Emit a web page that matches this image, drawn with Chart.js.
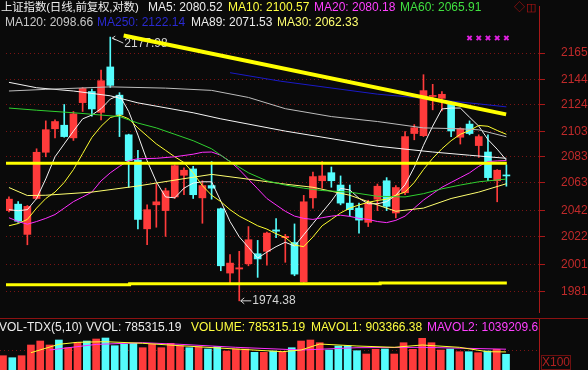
<!DOCTYPE html>
<html lang="zh">
<head>
<meta charset="UTF-8">
<title>上证指数 日线</title>
<script src="https://cdn.jsdelivr.net/npm/chart.js"></script>
<style>
  body { margin: 0; background: #0a0a0a; }
  #wrap { position: relative; width: 588px; height: 370px; overflow: hidden; background: #0a0a0a;
          font-family: "Liberation Sans", Arial, "Noto Sans CJK SC", sans-serif; }
  canvas { position: absolute; left: 0; }
  .t { position: absolute; font-size: 12px; line-height: 14px; white-space: nowrap; }
  #volText { position: absolute; left: 0; top: 320px; width: 539px; height: 14px; overflow: hidden; }
  #sep { position: absolute; left: 0; top: 318px; width: 588px; height: 1px; background: #8c1212; }
  #x100 { position: absolute; left: 541px; top: 355px; width: 28px; height: 13px; border: 1px solid #6e1010;
          color: #b02020; font-size: 12px; line-height: 13px; text-align: center; }
</style>
</head>
<body>
<div id="wrap">
  <canvas id="kChart" width="588" height="318" style="top:0"></canvas>
  <canvas id="volChart" width="588" height="52" style="top:318px"></canvas>

  <!-- header rows -->
  <div class="t" style="left:1px;top:0;color:#ececec;font-size:11.5px;letter-spacing:-0.2px">上证指数(日线,前复权,对数)</div>
  <div class="t" style="left:148px;top:0;color:#ececec">MA5: 2080.52</div>
  <div class="t" style="left:228px;top:0;color:#ffff40">MA10: 2100.57</div>
  <div class="t" style="left:314px;top:0;color:#ff40ff">MA20: 2080.18</div>
  <div class="t" style="left:400px;top:0;color:#40e040">MA60: 2065.91</div>
  <div class="t" style="left:5px;top:15px;color:#c8c8c8">MA120: 2098.66</div>
  <div class="t" style="left:97px;top:15px;color:#2a2ad0">MA250: 2122.14</div>
  <div class="t" style="left:191px;top:15px;color:#ececec">MA89: 2071.53</div>
  <div class="t" style="left:277px;top:15px;color:#ffff70">MA30: 2062.33</div>
  <div class="t" style="left:514px;top:0;color:#c01414;font-size:11px">◇</div>
  <div class="t" style="left:526px;top:0;color:#c01414;font-size:11px">◫</div>

  <div id="sep"></div>
  <div id="volText">
    <div class="t" style="left:-1px;top:0;color:#ececec">VOL-TDX(5,10)</div>
    <div class="t" style="left:86px;top:0;color:#ececec">VVOL: 785315.19</div>
    <div class="t" style="left:191px;top:0;color:#ffff40">VOLUME: 785315.19</div>
    <div class="t" style="left:311px;top:0;color:#ffff40">MAVOL1: 903366.38</div>
    <div class="t" style="left:427px;top:0;color:#ff40ff">MAVOL2: 1039209.63</div>
  </div>
  <div id="x100">X100</div>
</div>

<script>
// ---- daily candles, oldest -> newest (index 0..54) ----
const opens = [2041.8, 2046.7, 2023.8, 2051.0, 2086.6, 2104.9, 2107.7, 2097.8, 2125.5, 2134.3,
               2117.8, 2153.9, 2131.4, 2100.2, 2080.6, 2028.0, 2046.2, 2041.8, 2052.2, 2068.8,
               2073.7, 2051.5, 2060.9, 2043.2, 1994.9, 1997.9, 2001.8, 2009.3, 2011.1, 2027.2,
               2021.3, 2017.7, 1988.4, 2051.5, 2064.6, 2070.8, 2061.3, 2047.5, 2043.7, 2032.9,
               2050.5, 2064.6, 2040.0, 2055.4, 2101.2, 2099.5, 2130.4, 2128.9, 2124.7, 2098.3,
               2108.6, 2091.8, 2086.8, 2064.6, 2068.8];
const closes = [2050.5, 2033.7, 2045.0, 2086.6, 2104.2, 2110.6, 2098.8, 2116.6, 2136.7, 2120.5,
                2142.9, 2139.2, 2116.1, 2080.1, 2035.1, 2042.5, 2048.5, 2056.9, 2076.2, 2072.7,
                2053.9, 2060.9, 2058.9, 2000.3, 2002.3, 1998.8, 2019.8, 2005.4, 2024.8, 2026.2,
                2022.3, 1994.1, 2048.5, 2067.8, 2068.3, 2064.6, 2047.5, 2042.5, 2034.6, 2047.5,
                2060.4, 2045.0, 2059.4, 2098.8, 2105.7, 2135.0, 2130.9, 2132.1, 2103.2, 2104.9,
                2101.2, 2098.8, 2067.0, 2072.7, 2068.3];
const highs = [2052.2, 2048.6, 2045.7, 2089.3, 2111.1, 2111.9, 2124.0, 2118.5, 2137.5, 2136.3,
               2151.4, 2177.98, 2133.4, 2100.7, 2088.1, 2046.2, 2062.1, 2058.9, 2076.9, 2074.5,
               2075.7, 2064.6, 2079.4, 2043.7, 2008.6, 2011.1, 2029.7, 2019.3, 2025.5, 2035.8,
               2023.8, 2031.7, 2053.4, 2071.3, 2079.4, 2075.2, 2068.3, 2061.3, 2047.5, 2049.7,
               2062.1, 2067.0, 2060.9, 2102.7, 2108.2, 2147.7, 2140.0, 2134.3, 2126.5, 2105.7,
               2111.1, 2100.2, 2100.2, 2073.2, 2076.9];
const lows = [2040.8, 2032.9, 2016.0, 2050.5, 2083.1, 2097.8, 2098.3, 2095.8, 2118.5, 2114.8,
              2111.9, 2137.5, 2098.8, 2059.6, 2028.0, 2016.0, 2029.2, 2022.3, 2051.0, 2053.9,
              2051.0, 2032.2, 2050.5, 1996.6, 1987.1, 1974.38, 2000.3, 1991.7, 2000.8, 2021.3,
              2002.9, 1992.9, 1987.9, 2043.7, 2058.9, 2059.6, 2046.2, 2037.6, 2024.8, 2029.7,
              2041.8, 2041.8, 2036.3, 2053.9, 2096.3, 2098.8, 2119.8, 2119.0, 2098.8, 2093.0,
              2100.2, 2082.6, 2064.6, 2048.5, 2060.4];
const volumes = [715000, 615000, 715000, 1250000, 1450000, 1250000, 1500000, 1115000, 1385000, 1450000,
                 1550000, 1600000, 1215000, 1285000, 1335000, 1115000, 1285000, 1115000, 1335000, 1215000,
                 1115000, 1165000, 1050000, 1165000, 950000, 1050000, 1050000, 885000, 885000, 950000,
                 915000, 1115000, 1450000, 1500000, 1365000, 1000000, 1200000, 1215000, 965000, 800000,
                 1035000, 1050000, 800000, 1365000, 1035000, 1585000, 1365000, 1000000, 1050000, 915000,
                 915000, 865000, 950000, 1035000, 785315.19];

// ---- moving averages ----
const ma5 = [2042.5, 2041.7, 2042.5, 2051.0, 2066.0, 2083.1, 2093.1, 2103.1, 2112.7, 2115.7,
             2120.7, 2128.3, 2131.4, 2118.5, 2100.0, 2080.0, 2063.8, 2052.2, 2051.5, 2058.9,
             2062.8, 2063.8, 2063.8, 2049.0, 2033.5, 2022.0, 2014.0, 2006.0, 2010.5, 2014.6,
             2017.9, 2015.0, 2023.5, 2032.0, 2040.5, 2049.0, 2058.8, 2057.5, 2051.2, 2047.0,
             2047.0, 2048.6, 2053.5, 2061.5, 2075.0, 2092.0, 2107.0, 2120.5, 2121.2, 2121.2,
             2114.0, 2107.0, 2096.5, 2089.0, 2080.52];
const ma10 = [2030.3, 2032.0, 2035.1, 2043.7, 2051.0, 2055.9, 2063.3, 2073.2, 2085.6, 2098.1,
              2106.9, 2113.7, 2115.7, 2112.7, 2105.6, 2099.3, 2093.1, 2088.1, 2083.1, 2078.6,
              2070.7, 2060.8, 2053.5, 2048.6, 2042.5, 2037.6, 2034.0, 2030.3, 2027.8, 2024.3,
              2021.4, 2015.8, 2014.6, 2021.9, 2030.3, 2035.1, 2040.0, 2043.7, 2046.1, 2048.1,
              2049.5, 2050.5, 2053.5, 2055.9, 2063.3, 2073.2, 2081.9, 2089.3, 2095.6, 2100.6,
              2103.6, 2107.5, 2106.9, 2103.6, 2100.57];
const ma20Idx = [0, 1, 2, 3, 4, 5, 6, 7, 8, 9, 10, 11, 12, 13, 14, 16, 18, 20, 21, 22,
                 23, 24, 25, 26, 27, 28, 29, 30, 31, 32, 33, 34, 35, 36, 37, 38, 39, 40, 41, 42,
                 43, 44, 45, 46, 47, 48, 49, 50, 51, 52, 53, 54];
const ma20 = [2036.4, 2033.5, 2031.5, 2033.5, 2035.9, 2038.8, 2043.7, 2048.6, 2052.2, 2055.9,
              2064.5, 2070.7, 2075.7, 2080.1, 2081.6, 2081.9, 2083.1, 2085.1, 2086.6, 2086.8,
              2084.3, 2079.4, 2073.2, 2065.8, 2058.4, 2051.0, 2046.1, 2041.3, 2037.6, 2035.9,
              2035.1, 2036.4, 2037.6, 2038.3, 2037.4, 2035.9, 2035.1, 2033.5, 2032.7, 2034.4,
              2037.6, 2043.7, 2049.8, 2054.7, 2059.6, 2063.3, 2067.0, 2070.7, 2075.7, 2079.4,
              2079.9, 2080.18];
const ma30Idx = [0, 2, 4, 9, 14, 19, 22, 26, 30, 33, 37, 40, 42, 45, 48, 51, 54];
const ma30 = [2059.4, 2053.3, 2053.5, 2055.9, 2060.6, 2066.2, 2069.5, 2065.8, 2062.0, 2059.6,
              2053.5, 2046.1, 2041.3, 2043.7, 2051.0, 2055.9, 2062.33];
const ma60Idx = [0, 3, 7, 10, 12, 14, 16, 18, 20, 22, 23, 24, 26, 28, 30, 32, 34, 37, 40, 43,
                 45, 47, 49, 51, 54];
const ma60 = [2121.2, 2119.5, 2117.5, 2115.7, 2114.5, 2109.4, 2105.6, 2100.6, 2095.6, 2089.3,
              2084.3, 2079.4, 2070.7, 2064.5, 2061.3, 2058.9, 2057.1, 2055.9, 2052.7, 2052.2,
              2054.7, 2058.4, 2061.3, 2063.8, 2065.91];
const ma89Idx = [0, 3, 7, 11, 14, 20, 23, 30, 40, 46, 50, 54];
const ma89 = [2141.6, 2137.3, 2134.7, 2130.9, 2125.3, 2117.5, 2112.7, 2103.1, 2091.3, 2086.8, 2084.3, 2081.9];
const ma120Idx = [0, 4, 11, 17, 22, 26, 30, 35, 40, 45, 49, 51, 54];
const ma120 = [2134.7, 2136.0, 2138.0, 2137.0, 2135.2, 2129.6, 2120.7, 2114.5, 2110.6, 2105.6,
               2104.9, 2104.1, 2098.66];
const ma250Idx = [24, 29.5, 40, 44, 51, 54];
const ma250 = [2149.3, 2142.5, 2132.2, 2129.6, 2124.5, 2122.14];

// volume averages
const mavol1Idx = [3, 6, 8, 11, 15, 19, 25, 30, 32, 34, 38, 42, 45, 49, 52, 54];
const mavol1 = [865000, 1285000, 1385000, 1415000, 1335000, 1215000, 1050000, 915000, 1000000, 1300000,
                1200000, 1135000, 1250000, 1135000, 915000, 903366.38];
const mavol2Idx = [5, 10, 15, 19, 25, 32, 38, 45, 54];
const mavol2 = [1000000, 1280000, 1365000, 1285000, 1135000, 1000000, 1115000, 1135000, 1039209.63];

// hand drawn lines (index, price)
const trendX = [12.45, 53.97];
const trendY = [2179.2, 2116.2];
const neckX = [-0.32, 54.05];
const neckY = [2078.0, 2078.0];
const floorX = [-0.32, 13.1, 13.1, 40.3, 40.3, 54.05];
const floorY = [1986.3, 1986.3, 1987.0, 1987.0, 1987.5, 1987.5];

// signal markers at the top
const signalIdx = [50, 51, 52, 53, 54];
const signalLevel = 2177.2;

const yTicks = [2165, 2144, 2124, 2103, 2083, 2063, 2042, 2022, 2001, 1981];
const peak = { idx: 11, value: 2177.98 };
const trough = { idx: 25, value: 1974.38 };

const X_MIN = -0.32, X_MAX = 57.54;
const UP = '#ff3b3b', DOWN = '#54fcfc';
const AXIS_RED = '#a81818', GRID_RED = '#7a1414', LABEL_RED = '#c02a2a';

const pts = (xs, ys) => xs.map((x, i) => ({ x: x, y: ys[i] }));
const seq = ys => ys.map((y, i) => ({ x: i, y: y }));
const candleColor = opens.map((o, i) => closes[i] >= o ? UP : DOWN);

function line(data, color, width, order) {
  return { type: 'line', data: data, borderColor: color, borderWidth: width, pointRadius: 0,
           tension: 0, order: order, fill: false };
}

// fixes axis width and stops Chart.js from padding the plot for the end labels
function rightAxis(s) {
  s.width = 49;
  s.paddingTop = 0;
  s.paddingBottom = 0;
}

Chart.defaults.font.family = '"Liberation Sans", Arial, sans-serif';
Chart.defaults.font.size = 12;

// label plugin for the high / low of the range
const extremesPlugin = {
  id: 'extremes',
  beforeDatasetsDraw(chart) {
    const ctx = chart.ctx, x = chart.scales.x, y = chart.scales.y;
    ctx.save();
    ctx.strokeStyle = '#d4d4d4';
    ctx.fillStyle = '#d4d4d4';
    ctx.lineWidth = 1;
    ctx.font = '12px "Liberation Sans", Arial, sans-serif';
    ctx.textBaseline = 'middle';

    let px = x.getPixelForValue(peak.idx), py = y.getPixelForValue(peak.value);
    ctx.beginPath();
    ctx.moveTo(px + 5, py - 1); ctx.lineTo(px + 2, py + 1); ctx.lineTo(px + 5, py + 3);
    ctx.moveTo(px + 2, py + 1); ctx.lineTo(px + 13, py + 6);
    ctx.stroke();
    ctx.fillText(peak.value.toFixed(2), px + 14, py + 7);

    px = x.getPixelForValue(trough.idx); py = y.getPixelForValue(trough.value);
    ctx.beginPath();
    ctx.moveTo(px + 5, py - 3); ctx.lineTo(px + 1.5, py); ctx.lineTo(px + 5, py + 3);
    ctx.moveTo(px + 1.5, py); ctx.lineTo(px + 12, py);
    ctx.stroke();
    ctx.fillText(trough.value.toFixed(2), px + 13, py);
    ctx.restore();
  }
};

new Chart(document.getElementById('kChart'), {
  type: 'bar',
  data: {
    datasets: [
      line(pts(trendX, trendY), '#ffff00', 4, 0),
      line(pts(neckX, neckY), '#ffff00', 3, 0),
      line(pts(floorX, floorY), '#ffff00', 3, 0),
      { type: 'line', data: signalIdx.map(i => ({ x: i, y: signalLevel })), showLine: false,
        pointStyle: 'crossRot', pointRadius: 3, borderWidth: 2, borderColor: '#e020e0', order: 0 },
      line(pts(ma250Idx, ma250), '#1a1ac8', 1, 1),
      line(pts(ma120Idx, ma120), '#bcbcbc', 1, 1),
      line(pts(ma89Idx, ma89), '#f4f4f4', 1, 1),
      line(pts(ma60Idx, ma60), '#30d030', 1, 1),
      line(pts(ma30Idx, ma30), '#ffff70', 1, 1),
      line(pts(ma20Idx, ma20), '#ff30ff', 1, 1),
      line(seq(ma10), '#ffff30', 1, 1),
      line(seq(ma5), '#f4f4f4', 1, 1),
      { type: 'bar', data: opens.map((o, i) => ({ x: i, y: [o, closes[i]] })),
        backgroundColor: candleColor, barThickness: 7, grouped: false, minBarLength: 1, order: 5 },
      { type: 'bar', data: lows.map((l, i) => ({ x: i, y: [l, highs[i]] })),
        backgroundColor: candleColor, barThickness: 1, grouped: false, order: 6 }
    ]
  },
  options: {
    responsive: false,
    animation: false,
    devicePixelRatio: 1,
    events: [],
    layout: { padding: 0 },
    plugins: { legend: { display: false }, tooltip: { enabled: false } },
    scales: {
      x: { type: 'linear', min: X_MIN, max: X_MAX, display: false, offset: false, bounds: 'data' },
      y: {
        type: 'logarithmic', position: 'right', min: 1966.2, max: 2203.3, bounds: 'data',
        afterBuildTicks: s => { s.ticks = yTicks.map(v => ({ value: v })); },
        afterFit: rightAxis,
        ticks: { color: LABEL_RED, padding: 16, autoSkip: false, callback: v => String(v) },
        grid: { color: GRID_RED, tickColor: AXIS_RED, tickLength: 6, lineWidth: 1 },
        border: { color: AXIS_RED, width: 1, dash: [1, 3] }
      }
    }
  },
  plugins: [extremesPlugin]
});

new Chart(document.getElementById('volChart'), {
  type: 'bar',
  data: {
    datasets: [
      line(pts(mavol1Idx, mavol1), '#ffff30', 1, 0),
      line(pts(mavol2Idx, mavol2), '#ff30ff', 1, 1),
      { type: 'bar', data: volumes.map((v, i) => ({ x: i, y: v })), backgroundColor: candleColor,
        barThickness: 7, grouped: false, order: 3 }
    ]
  },
  options: {
    responsive: false,
    animation: false,
    devicePixelRatio: 1,
    events: [],
    layout: { padding: 0 },
    plugins: { legend: { display: false }, tooltip: { enabled: false } },
    scales: {
      x: { type: 'linear', min: X_MIN, max: X_MAX, display: false, offset: false, bounds: 'data' },
      y: {
        type: 'linear', position: 'right', min: 0, max: 2600000, bounds: 'data',
        afterBuildTicks: s => { s.ticks = [{ value: 1000000 }]; },
        afterFit: rightAxis,
        ticks: { display: false },
        grid: { color: GRID_RED, drawTicks: false, lineWidth: 1 },
        border: { color: AXIS_RED, width: 1, dash: [1, 3] }
      }
    }
  }
});
</script>
</body>
</html>
